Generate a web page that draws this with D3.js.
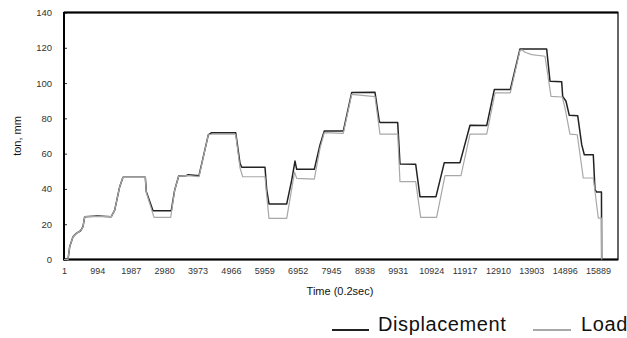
<!DOCTYPE html>
<html><head><meta charset="utf-8">
<script src="https://cdn.jsdelivr.net/npm/d3@7"></script>
<style>
html,body{margin:0;padding:0;background:#fff;}
svg{display:block;font-family:"Liberation Sans",Arial,sans-serif;}
</style></head>
<body><svg id="c" width="627" height="338"></svg>
<script>
// ---- data (time index, value) ----
const dispTime = [1,120,171,269,367,498,566,617,1000,1408,1509,1658,1756,2420,2450,2649,3193,3294,3413,3630,3700,4017,4294,4395,5109,5237,5288,5981,6032,6100,6627,6776,6873,6924,7448,7617,7745,8310,8560,9253,9381,9417,9929,9997,10464,10592,11068,11315,11782,12080,12577,12803,13279,13567,14361,14460,14807,14837,14936,15034,15284,15403,15481,15748,15798,15849,15991,15997];
const dispVal  = [0,0,7.3,12.9,14.8,16.3,18.6,24.3,24.6,24.3,28,41.3,46.6,46.6,38.4,27.7,27.7,39.4,47.3,47.5,48.1,47.5,70.6,71.9,71.9,54.5,52.3,52.3,39.4,31.5,31.5,45,55.8,51.1,51.1,64.9,72.8,72.8,94.6,94.8,78.1,77.6,77.6,54.1,54,35.6,35.6,54.9,54.9,76.1,75.9,96.3,96.3,119.3,119.3,101,100.8,92.5,89.7,81.7,81.5,65.1,59.4,59.4,39.6,38.3,38.3,0];

const loadTime = [1,120,171,269,367,498,566,617,1000,1408,1509,1658,1756,2420,2450,2679,3176,3294,3413,3700,4017,4294,4395,5109,5237,5317,5981,6032,6100,6627,6776,6860,6924,7448,7617,7745,8310,8560,9253,9402,9929,9997,10464,10613,11087,11336,11811,12080,12577,12824,13279,13567,13627,13716,13915,14311,14490,14825,14905,15054,15271,15450,15748,15897,15991,15997];
const loadVal  = [0,0,7.3,12.9,14.8,16.3,18.6,24.3,24.3,24.3,28,41.3,46.6,46.6,38,23.9,23.9,39.4,47.3,47.5,47,70.6,71,71,52,46.9,46.9,36,23.3,23.3,40,49.5,46,45.6,63,71.9,71.5,93.6,92.3,71.1,71.1,44.1,44.1,23.9,23.9,47.5,47.5,71.1,71.1,94.4,94.4,118.5,118.8,117.5,116.1,115.2,92.5,92.1,85.9,71.1,70.7,46.2,46.2,23.5,23.5,0];

const xTicks = [1,994,1987,2980,3973,4966,5959,6952,7945,8938,9931,10924,11917,12910,13903,14896,15889];
const yTicks = [0,20,40,60,80,100,120,140];
const seriesNames = ["Displacement","Load"];
const seriesColors = ["#222222","#a8a8a8"];

// ---- layout ----
const svg = d3.select("#c");
const L = 64, R = 618, T = 12.5, B = 259.5;
const x = d3.scaleLinear().domain([1,16483]).range([L,R]);
const y = d3.scaleLinear().domain([0,140]).range([B,T]);

// frame
svg.append("rect").attr("x",L).attr("y",T).attr("width",R-L).attr("height",B-T)
  .attr("fill","none").attr("stroke","#333").attr("stroke-width",1.5);

// y axis
const ya = svg.append("g").attr("transform",`translate(${L},0)`)
  .call(d3.axisRight(y).tickValues(yTicks).tickSize(3).tickFormat(d3.format("d")));
ya.select(".domain").remove();
ya.selectAll("line").attr("stroke","#333");
ya.selectAll("text").attr("x",-12).attr("text-anchor","end").attr("fill","#333").style("font-size","9.5px");

// x axis
const xa = svg.append("g").attr("transform",`translate(0,${B})`)
  .call(d3.axisBottom(x).tickValues(xTicks).tickSize(0).tickPadding(8).tickFormat(d3.format("d")));
xa.select(".domain").remove();
xa.selectAll("text").attr("fill","#333").style("font-size","9px");

// axis lines (thick)
svg.append("line").attr("x1",L).attr("x2",L).attr("y1",T-0.5).attr("y2",B+1).attr("stroke","#000").attr("stroke-width",2);
svg.append("line").attr("x1",L).attr("x2",R).attr("y1",B).attr("y2",B).attr("stroke","#000").attr("stroke-width",2);
svg.append("line").attr("x1",L).attr("x2",R).attr("y1",T).attr("y2",T).attr("stroke","#000").attr("stroke-width",2);

// lines
const line = d3.line().x(d=>x(d[0])).y(d=>y(d[1]));
const dispData = dispTime.map((t,i)=>[t,dispVal[i]]);
const loadData = loadTime.map((t,i)=>[t,loadVal[i]]);
svg.append("path").datum(dispData).attr("d",line).attr("fill","none")
  .attr("stroke",seriesColors[0]).attr("stroke-width",1.5).attr("stroke-linejoin","round");
svg.append("path").datum(loadData).attr("d",line).attr("fill","none")
  .attr("stroke",seriesColors[1]).attr("stroke-width",1.2).attr("stroke-linejoin","round");

// axis titles
svg.append("text").attr("x",340).attr("y",295).attr("text-anchor","middle")
  .attr("fill","#111").style("font-size","11px").text("Time (0.2sec)");
svg.append("text").attr("transform","translate(21,136) rotate(-90)").attr("text-anchor","middle")
  .attr("fill","#111").style("font-size","11px").text("ton, mm");

// legend
const leg = [{x1:332,x2:369,tx:378},{x1:533,x2:571,tx:581}];
leg.forEach((g,i)=>{
  svg.append("line").attr("x1",g.x1).attr("x2",g.x2).attr("y1",330).attr("y2",330)
    .attr("stroke",seriesColors[i]).attr("stroke-width",2);
  svg.append("text").attr("x",g.tx).attr("y",331).attr("fill","#111")
    .style("font-size","20px").style("letter-spacing","0.6px").text(seriesNames[i]);
});
</script></body></html>
